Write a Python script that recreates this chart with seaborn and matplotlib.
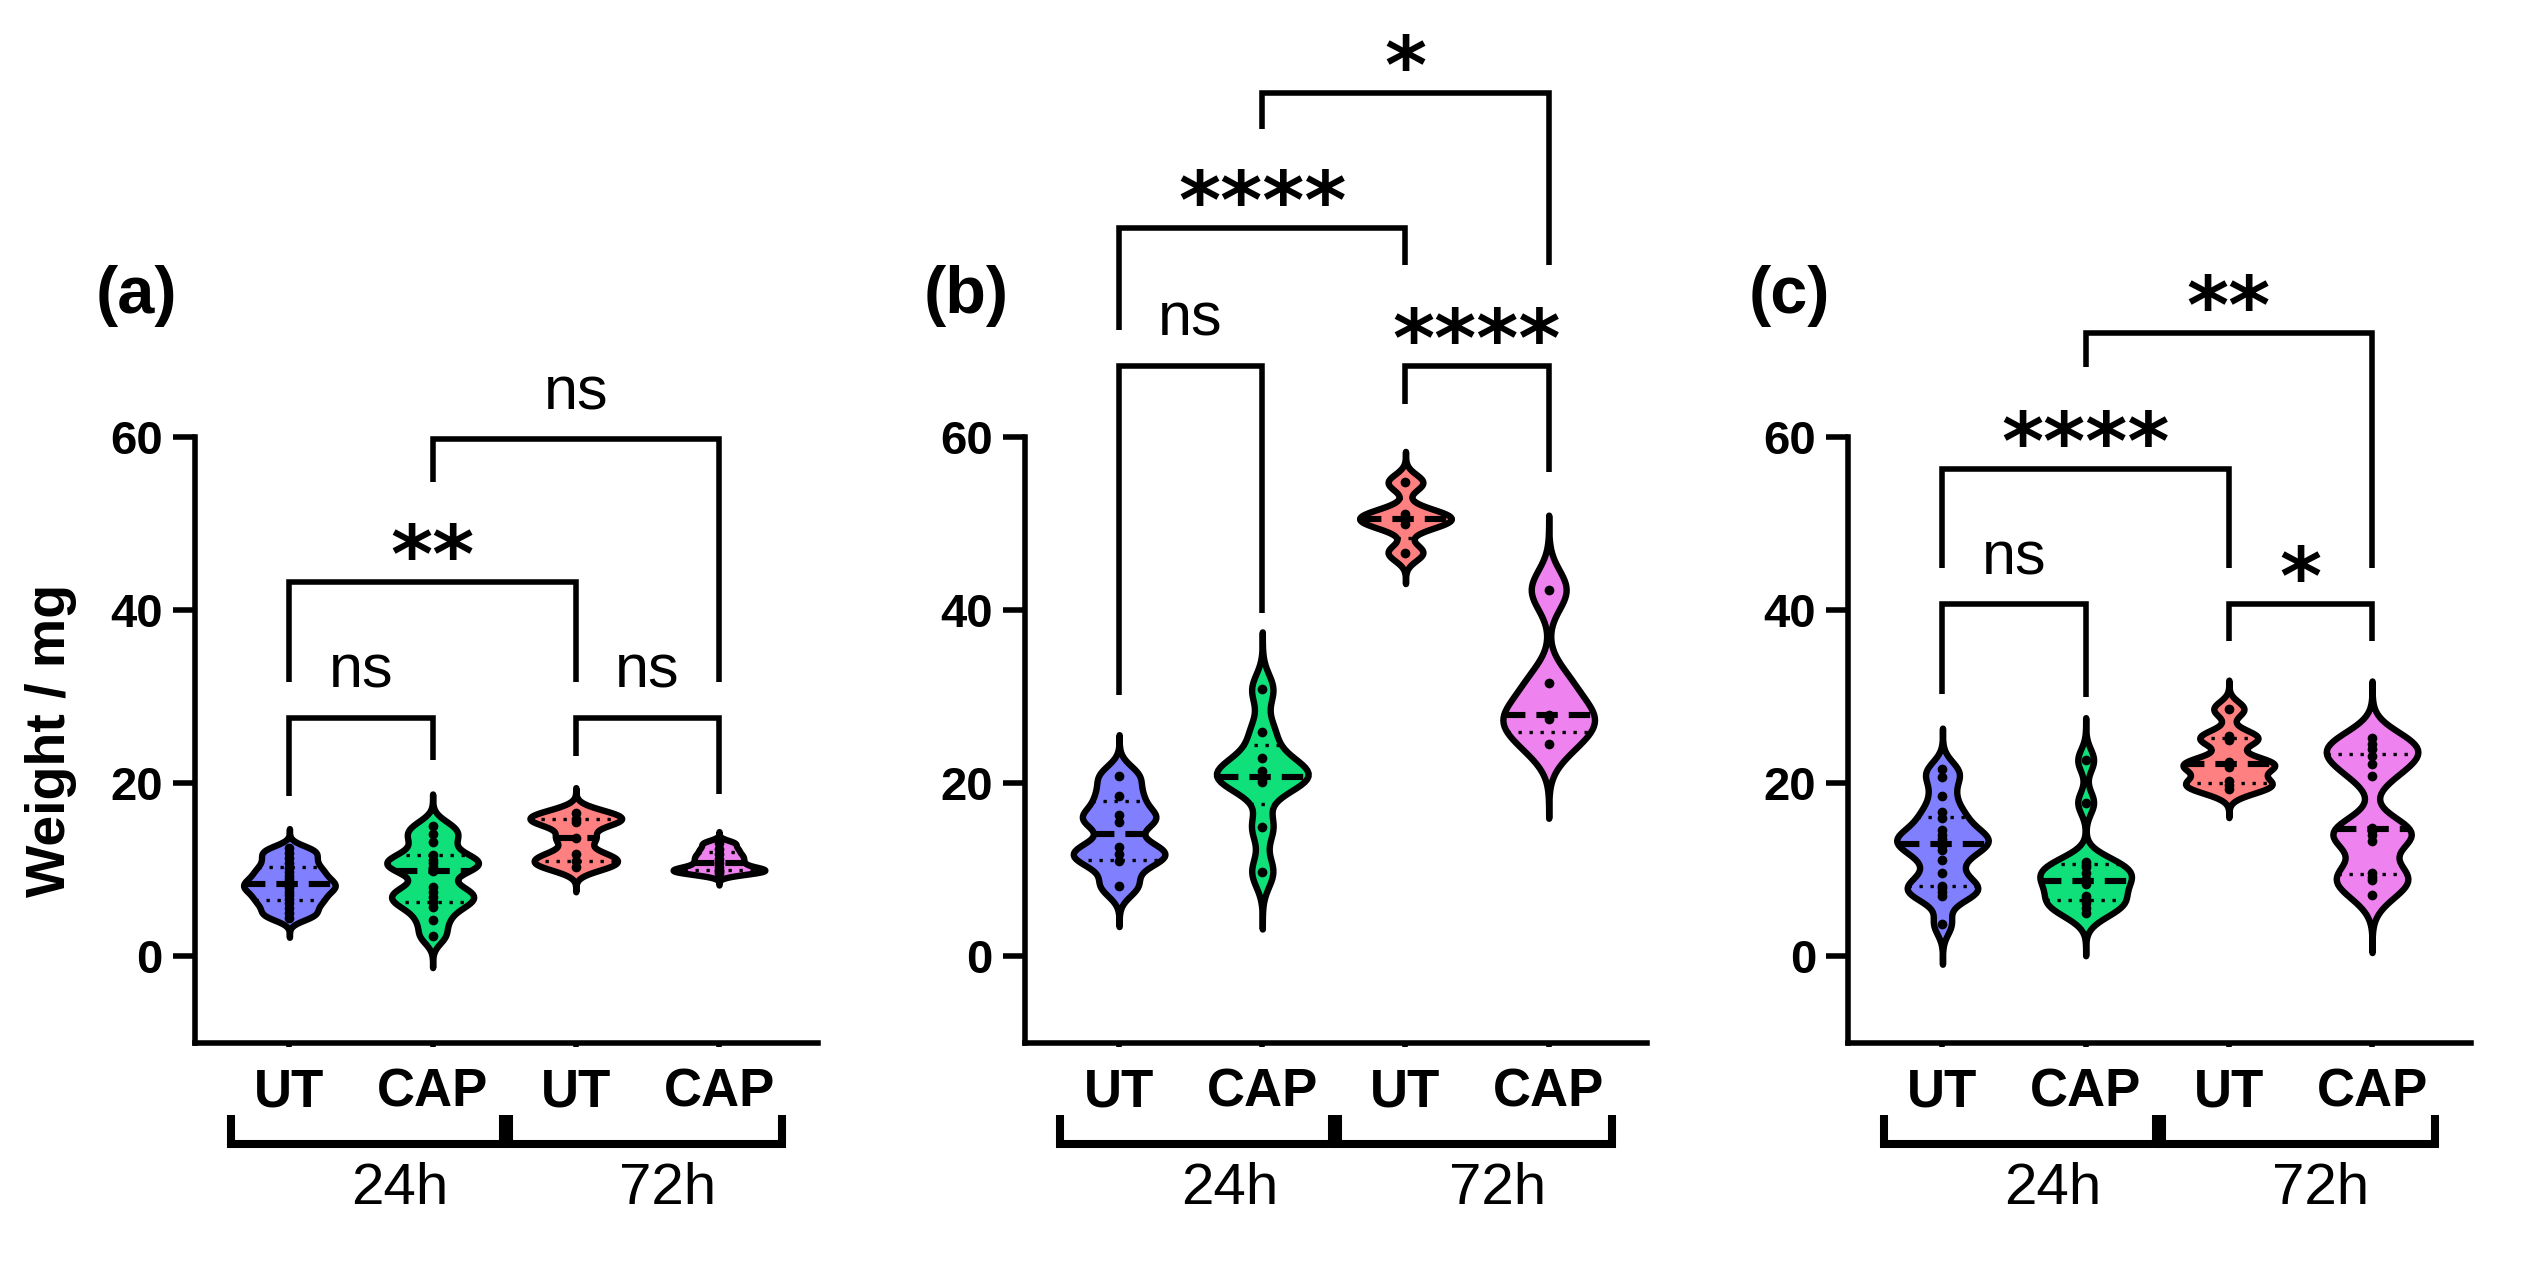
import numpy as np
import pandas as pd
import seaborn as sns
import matplotlib.pyplot as plt
from matplotlib import font_manager
from matplotlib.transforms import offset_copy

# Groups (same four in every panel)
groups = ['UT 24h', 'CAP 24h', 'UT 72h', 'CAP 72h']
tick_labels = ['UT', 'CAP', 'UT', 'CAP']
time_labels = ['24h', '72h']
colors = ['#8080ff', '#10e07a', '#ff8080', '#ee82ee']
panel_labels = ['(a)', '(b)', '(c)']

# Panel (a) weights / mg
a_ut24 = [4.5, 5.0, 5.6, 6.2, 6.6, 7.1, 7.5, 7.9, 8.2, 8.5, 8.9, 9.3, 9.8, 10.2, 10.8, 11.4, 12.0, 12.5]
a_cap24 = [2.4, 4.2, 5.7, 6.3, 6.9, 7.4, 8.0, 9.9, 10.3, 10.8, 11.2, 11.7, 13.2, 14.2, 15.1]
a_ut72 = [10.4, 11.0, 11.8, 13.7, 15.5, 15.9, 16.6]
a_cap72 = [9.6, 9.9, 10.0, 10.3, 10.8, 11.3, 11.8, 12.4, 13.1]

# Panel (b)
b_ut24 = [8.2, 11.0, 11.8, 12.7, 15.6, 16.3, 18.5, 20.9]
b_cap24 = [9.8, 15.0, 20.2, 20.5, 20.8, 21.5, 22.9, 26.0, 30.9]
b_ut72 = [46.7, 50.0, 50.6, 51.2, 54.8]
b_cap72 = [24.6, 27.4, 27.9, 31.6, 42.4]

# Panel (c)
c_ut24 = [3.8, 7.0, 7.5, 7.9, 8.2, 9.6, 11.1, 12.3, 12.8, 13.2, 13.6, 14.1, 14.6, 16.0, 16.7, 18.6, 20.7, 21.7]
c_cap24 = [5.0, 5.6, 6.2, 6.6, 7.0, 8.4, 8.6, 8.9, 9.6, 10.3, 10.6, 10.9, 17.8, 22.7]
c_ut72 = [19.4, 19.8, 20.3, 21.9, 22.2, 22.5, 25.0, 25.5, 28.6]
c_cap72 = [7.1, 8.8, 9.2, 9.7, 13.4, 14.0, 14.5, 14.9, 20.9, 22.3, 23.2, 24.0, 24.6, 25.2]

# significance brackets: (left group, right group, bar level, left leg end, right leg end, label)
a_brackets = [(0, 1, 27.6, 18.6, 22.7, 'ns'), (2, 3, 27.6, 23.2, 18.8, 'ns'),
              (0, 2, 43.3, 31.7, 31.7, '**'), (1, 3, 59.8, 54.9, 31.7, 'ns')]
b_brackets = [(0, 1, 68.3, 30.2, 39.7, 'ns'), (2, 3, 68.3, 63.9, 56.0, '****'),
              (0, 2, 84.2, 72.4, 79.9, '****'), (1, 3, 99.8, 95.7, 79.9, '*')]
c_brackets = [(0, 1, 40.7, 30.3, 30.0, 'ns'), (2, 3, 40.7, 36.5, 36.5, '*'),
              (0, 2, 56.4, 44.9, 44.9, '****'), (1, 3, 72.1, 68.2, 44.9, '**')]

panels = [
    ([a_ut24, a_cap24, a_ut72, a_cap72], a_brackets),
    ([b_ut24, b_cap24, b_ut72, b_cap72], b_brackets),
    ([c_ut24, c_cap24, c_ut72, c_cap72], c_brackets),
]

sns.set_style('ticks')
plt.rcParams['font.family'] = ['Liberation Sans', 'DejaVu Sans']
for key in ['text.color', 'axes.labelcolor', 'xtick.color', 'ytick.color', 'axes.edgecolor']:
    plt.rcParams[key] = 'black'
names = {f.name for f in font_manager.fontManager.ttflist}
narrow = 'Liberation Sans Narrow' if 'Liberation Sans Narrow' in names else 'Liberation Sans'

fig = plt.figure(figsize=(12.64, 6.345), dpi=200)
lefts = [0.0771, 0.4053, 0.7310]


def edge_x(verts, y):
    xs = []
    for (x0, y0), (x1, y1) in zip(verts[:-1], verts[1:]):
        if y0 != y1 and (y0 - y) * (y1 - y) <= 0:
            xs.append(x0 + (y - y0) * (x1 - x0) / (y1 - y0))
    return min(xs), max(xs)


def label_at(ax, x, y, s, size, weight, family, ink):
    # put the glyphs' visual centre at (x, y)
    tr = offset_copy(ax.transData, fig=fig, y=-ink * size, units='points')
    ax.text(x, y, s, transform=tr, ha='center', va='baseline', fontsize=size,
            fontweight=weight, family=family, color='black', clip_on=False)


for k, (series, brackets) in enumerate(panels):
    ax = fig.add_axes([lefts[k], 0.1781, 0.2464, 0.8180])
    df = pd.DataFrame({
        'group': np.repeat(groups, [len(s) for s in series]),
        'weight': np.concatenate(series),
    })

    sns.violinplot(data=df, x='group', y='weight', hue='group', order=groups,
                   hue_order=groups, palette=dict(zip(groups, colors)), legend=False,
                   inner=None, density_norm='width', width=0.64, bw_adjust=0.45,
                   cut=3.8, linewidth=2.3, linecolor='black', saturation=1, ax=ax)
    polys = sorted(ax.collections, key=lambda c: c.get_paths()[0].vertices[:, 0].mean())

    # median (dashed) and quartiles (dotted)
    for poly, vals in zip(polys, series):
        verts = poly.get_paths()[0].vertices
        q1, med, q3 = np.percentile(vals, [25, 50, 75], method='weibull')
        for q, lw, dash in [(q1, 1.2, (1, 2.3)), (q3, 1.2, (1, 2.3)), (med, 2.2, (3.5, 1.8))]:
            xl, xr = edge_x(verts, q)
            ax.plot([xl, xr], [q, q], color='black', lw=lw, dashes=dash,
                    solid_capstyle='butt', dash_capstyle='butt', zorder=2.5)

    sns.stripplot(data=df, x='group', y='weight', order=groups, jitter=False,
                  color='black', size=3.5, zorder=3, ax=ax)

    ax.set_xlim(-0.66, 3.69)
    ax.set_ylim(-10, 110)
    for side in ['top', 'right']:
        ax.spines[side].set_visible(False)
    ax.spines['left'].set_bounds(-10, 60)
    for side in ['left', 'bottom']:
        ax.spines[side].set_linewidth(2.0)
    ax.set_yticks([0, 20, 40, 60])
    ax.tick_params(axis='y', length=8, width=2.0, pad=3.5, labelsize=17)
    for t in ax.get_yticklabels():
        t.set_fontweight('bold')
    ax.set_xticks(range(4))
    ax.set_xticklabels(tick_labels, fontsize=19, fontweight='bold', family=narrow)
    ax.tick_params(axis='x', length=1.5, width=2.0, pad=7.5)
    ax.set_xlabel('')
    ax.set_ylabel('')

    # significance brackets
    for i, j, top, yl, yr, txt in brackets:
        ax.plot([i, i, j, j], [yl, top, top, yr], color='black', lw=2.0,
                solid_joinstyle='miter', solid_capstyle='butt', clip_on=False)
        if txt == 'ns':
            label_at(ax, (i + j) / 2, top + 5.3, txt, 22, 'normal', narrow, 0.26)
        else:
            label_at(ax, (i + j) / 2, top + 5.3, txt, 29, 'bold', 'DejaVu Sans', 0.57)

    # time group brackets under the axis
    for (x0, x1), tx, lab in zip([(-0.41, 1.49), (1.53, 3.44)], [0.77, 2.64], time_labels):
        ax.plot([x0, x0, x1, x1], [-18.3, -21.7, -21.7, -18.3], color='black', lw=2.9,
                solid_joinstyle='miter', solid_capstyle='butt', clip_on=False)
        label_at(ax, tx, -26.2, lab, 21, 'normal', narrow, 0.36)

    label_at(ax, -1.07, 77.2, panel_labels[k], 24, 'bold', 'Liberation Sans', 0.36)

    if k == 0:
        ax.set_ylabel('Weight / mg', fontsize=20, fontweight='bold')
        ax.yaxis.set_label_coords(-0.19, 0.2917)

fig.savefig('out.png', dpi=200)
